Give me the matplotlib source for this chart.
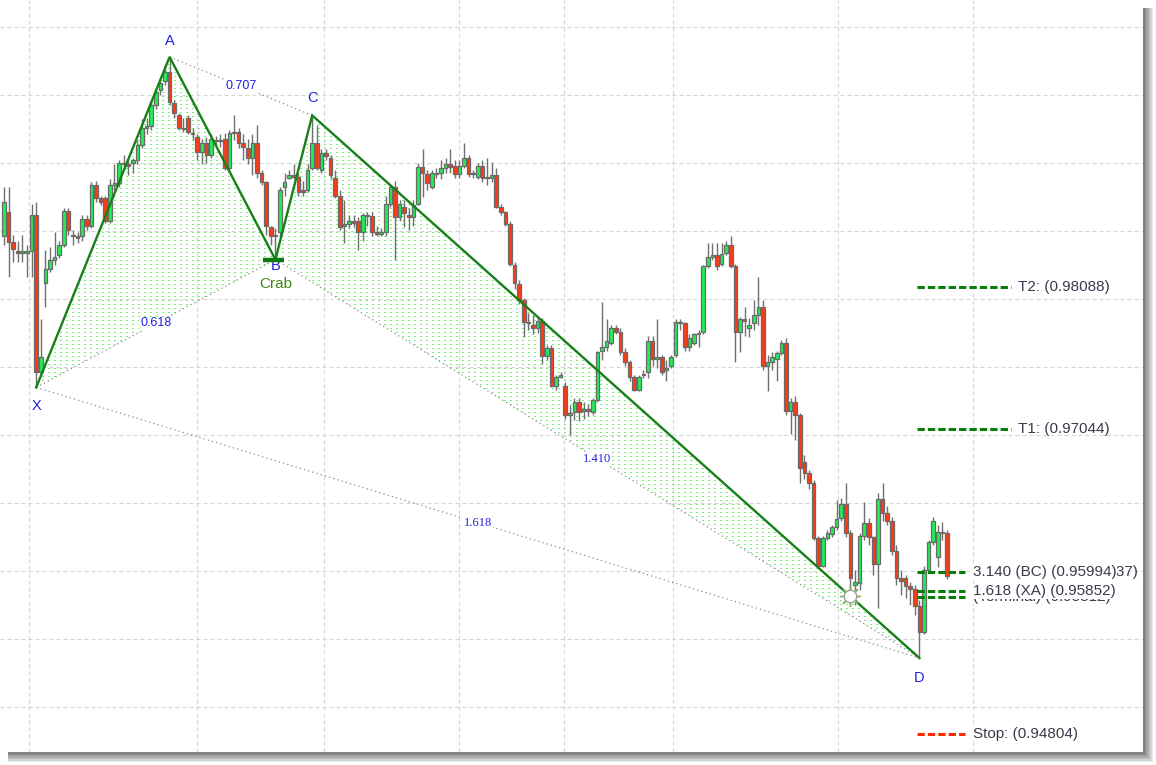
import numpy as np
import matplotlib
matplotlib.use("Agg")
import matplotlib.pyplot as plt
from matplotlib.patches import Polygon, Rectangle

plt.rcParams['font.family'] = ['Liberation Sans', 'DejaVu Sans']

# candle prices in pips (price * 10000), one entry per bar
open_p = [9846, 9864, 9842, 9835, 9834, 9834, 9835, 9862, 9746, 9812, 9822, 9829, 9832, 9840, 9865, 9847, 9846, 9846, 9859, 9854,
          9884, 9874, 9874, 9857, 9884, 9885, 9900, 9899, 9900, 9902, 9913, 9926, 9927, 9943, 9954, 9960, 9967, 9944, 9935, 9926,
          9933, 9922, 9919, 9908, 9915, 9906, 9917, 9916, 9918, 9896, 9922, 9923, 9915, 9911, 9904, 9915, 9893, 9886, 9853, 9847,
          9849, 9882, 9889, 9891, 9890, 9880, 9880, 9896, 9915, 9895, 9907, 9904, 9889, 9876, 9854, 9855, 9857, 9857, 9849, 9862,
          9861, 9849, 9848, 9849, 9870, 9882, 9860, 9868, 9862, 9860, 9870, 9897, 9892, 9882, 9892, 9893, 9896, 9899, 9898, 9892,
          9898, 9904, 9892, 9890, 9898, 9889, 9889, 9891, 9868, 9864, 9855, 9825, 9811, 9799, 9783, 9781, 9779, 9784, 9758, 9764,
          9736, 9743, 9736, 9715, 9717, 9724, 9718, 9719, 9717, 9726, 9762, 9765, 9768, 9779, 9776, 9761, 9754, 9743, 9733, 9744,
          9746, 9769, 9756, 9757, 9748, 9751, 9759, 9783, 9782, 9765, 9768, 9774, 9776, 9824, 9831, 9832, 9826, 9834, 9840, 9824,
          9776, 9785, 9779, 9782, 9788, 9794, 9751, 9754, 9756, 9760, 9768, 9718, 9724, 9715, 9680, 9672, 9665, 9624, 9604, 9624,
          9627, 9632, 9639, 9649, 9628, 9590, 9591, 9626, 9635, 9625, 9605, 9653, 9643, 9637, 9615, 9595, 9595, 9589, 9587, 9574,
          9555, 9601, 9621, 9610, 9629, 9628]
high_p = [9882, 9882, 9847, 9843, 9847, 9840, 9870, 9871, 9785, 9836, 9838, 9849, 9843, 9867, 9867, 9851, 9849, 9862, 9862, 9886,
          9887, 9876, 9876, 9888, 9899, 9902, 9906, 9902, 9904, 9917, 9932, 9933, 9946, 9955, 9962, 9971, 9978, 9946, 9937, 9933,
          9935, 9926, 9921, 9918, 9919, 9921, 9920, 9921, 9922, 9924, 9935, 9926, 9921, 9918, 9921, 9928, 9895, 9887, 9854, 9852,
          9882, 9893, 9895, 9899, 9893, 9887, 9899, 9935, 9928, 9910, 9910, 9906, 9895, 9880, 9873, 9862, 9862, 9860, 9863, 9864,
          9864, 9854, 9852, 9876, 9884, 9887, 9873, 9873, 9867, 9873, 9900, 9910, 9895, 9895, 9896, 9902, 9904, 9910, 9902, 9902,
          9915, 9906, 9895, 9900, 9902, 9904, 9901, 9896, 9870, 9865, 9857, 9827, 9814, 9801, 9790, 9788, 9787, 9786, 9766, 9766,
          9744, 9746, 9739, 9722, 9727, 9727, 9724, 9723, 9727, 9762, 9798, 9785, 9781, 9781, 9779, 9764, 9755, 9744, 9744, 9748,
          9773, 9773, 9785, 9759, 9755, 9759, 9785, 9785, 9783, 9774, 9775, 9777, 9825, 9841, 9841, 9841, 9841, 9843, 9846, 9826,
          9787, 9794, 9786, 9799, 9816, 9799, 9759, 9761, 9762, 9770, 9771, 9727, 9729, 9716, 9685, 9674, 9667, 9626, 9626, 9630,
          9634, 9652, 9654, 9665, 9630, 9601, 9628, 9651, 9639, 9626, 9657, 9665, 9648, 9640, 9619, 9601, 9597, 9592, 9590, 9579,
          9604, 9623, 9640, 9634, 9636, 9630]
low_p = [9840, 9816, 9827, 9827, 9827, 9816, 9816, 9735, 9744, 9794, 9820, 9825, 9830, 9838, 9847, 9840, 9841, 9843, 9851, 9852,
         9871, 9869, 9856, 9856, 9880, 9882, 9895, 9891, 9893, 9899, 9911, 9921, 9924, 9940, 9950, 9957, 9943, 9933, 9924, 9923,
         9921, 9917, 9902, 9899, 9900, 9904, 9913, 9912, 9895, 9895, 9917, 9911, 9902, 9899, 9891, 9889, 9884, 9847, 9840, 9829,
         9845, 9876, 9888, 9888, 9876, 9876, 9879, 9895, 9895, 9893, 9902, 9888, 9874, 9851, 9841, 9852, 9853, 9836, 9843, 9854,
         9846, 9846, 9846, 9846, 9868, 9829, 9857, 9853, 9851, 9854, 9869, 9875, 9880, 9881, 9889, 9888, 9893, 9893, 9889, 9889,
         9896, 9890, 9889, 9888, 9886, 9884, 9886, 9867, 9862, 9854, 9824, 9807, 9796, 9772, 9777, 9774, 9775, 9752, 9755, 9735,
         9733, 9742, 9712, 9700, 9711, 9710, 9712, 9714, 9715, 9724, 9755, 9762, 9766, 9774, 9759, 9751, 9740, 9732, 9732, 9742,
         9742, 9751, 9749, 9744, 9740, 9749, 9757, 9777, 9762, 9762, 9766, 9765, 9774, 9823, 9829, 9821, 9824, 9832, 9823, 9754,
         9761, 9773, 9772, 9777, 9781, 9748, 9732, 9748, 9740, 9759, 9715, 9701, 9696, 9665, 9668, 9660, 9623, 9603, 9603, 9623,
         9625, 9630, 9637, 9625, 9586, 9575, 9586, 9623, 9619, 9597, 9573, 9637, 9634, 9612, 9590, 9582, 9580, 9575, 9568, 9536,
         9554, 9599, 9619, 9603, 9623, 9594]
close_p = [9871, 9842, 9837, 9834, 9835, 9835, 9862, 9746, 9757, 9822, 9829, 9831, 9840, 9865, 9851, 9846, 9845, 9859, 9854, 9884,
           9874, 9871, 9857, 9884, 9885, 9900, 9899, 9898, 9902, 9913, 9926, 9927, 9943, 9952, 9959, 9967, 9945, 9937, 9926, 9925,
           9923, 9921, 9908, 9915, 9906, 9918, 9916, 9917, 9896, 9922, 9923, 9915, 9912, 9904, 9915, 9893, 9886, 9854, 9846, 9846,
           9880, 9886, 9891, 9890, 9879, 9879, 9895, 9915, 9896, 9907, 9905, 9891, 9876, 9853, 9855, 9857, 9856, 9849, 9862, 9861,
           9849, 9848, 9849, 9870, 9882, 9860, 9870, 9863, 9860, 9869, 9897, 9893, 9885, 9893, 9893, 9896, 9899, 9897, 9892, 9898,
           9904, 9892, 9893, 9898, 9889, 9890, 9891, 9868, 9864, 9855, 9826, 9812, 9799, 9783, 9782, 9779, 9784, 9758, 9764, 9736,
           9743, 9744, 9715, 9716, 9724, 9717, 9719, 9718, 9726, 9761, 9765, 9769, 9779, 9776, 9761, 9754, 9743, 9733, 9743, 9745,
           9769, 9756, 9757, 9746, 9749, 9757, 9783, 9782, 9765, 9771, 9774, 9775, 9824, 9831, 9832, 9824, 9833, 9840, 9824, 9776,
           9785, 9784, 9781, 9788, 9794, 9751, 9754, 9757, 9760, 9768, 9718, 9724, 9715, 9676, 9672, 9665, 9624, 9604, 9624, 9628,
           9632, 9638, 9649, 9628, 9595, 9592, 9626, 9635, 9625, 9605, 9653, 9643, 9637, 9615, 9595, 9593, 9589, 9587, 9574, 9555,
           9601, 9621, 9637, 9629, 9628, 9596]

# harmonic pattern points (bar index, price)
point_names = ['X', 'A', 'B', 'C', 'D']
point_bar = [7, 36, 59, 67, 199]
point_price = [0.9735, 0.9978, 0.9829, 0.9935, 0.9536]
ratio_pairs = [('X', 'B', '0.618'), ('A', 'C', '0.707'), ('B', 'D', '1.410'), ('X', 'D', '1.618')]

# target / stop levels on the right
long_levels = [('T2: (0.98088)', 0.98088), ('T1: (0.97044)', 0.97044)]
short_levels = [('3.140 (BC) (0.95994)', 0.95994, '#0b7d0b'),
                ('(Terminal) (0.95812)', 0.95812, '#0b7d0b'),
                ('1.618 (XA) (0.95852)', 0.95852, '#0b7d0b'),
                ('Stop: (0.94804)', 0.94804, '#ff2a00')]
hidden_label = ('1.27 (AB=CD) (0.96037)', 0.95994)

time_grid = [5.4, 42.0, 69.6, 98.9, 121.7, 145.4, 181.3, 210.7]

W, H = 1156, 765
fig = plt.figure(figsize=(W / 100, H / 100), dpi=100)
ax = fig.add_axes([0, 13 / H, 1143 / W, 752 / H])

# drop shadow behind chart panel
for k in range(7):
    r, b = 1153 - 1.4 * k, 762 - 1.4 * k
    fig.add_artist(Rectangle((8 / W, (H - b) / H), (r - 8) / W, (b - 8) / H,
                             transform=fig.transFigure, facecolor='black',
                             edgecolor='none', alpha=0.09, zorder=-1))

xlim = (-0.87, 247.6)
ylim = (0.946691, 1.001985)

o = np.array(open_p) / 10000
h = np.array(high_p) / 10000
l = np.array(low_p) / 10000
c = np.array(close_p) / 10000
x = np.arange(len(o))

# dotted green texture inside the two pattern triangles
pts = dict(zip(point_names, zip(point_bar, point_price)))
tex = np.zeros((752, 1143, 4))
tex[::4, 0::6] = (0.45, 0.95, 0.45, 1.0)
tex[::4, 1::6] = (0.45, 0.95, 0.45, 1.0)
for tri in (('X', 'A', 'B'), ('B', 'C', 'D')):
    im = ax.imshow(tex, extent=(xlim[0], xlim[1], ylim[0], ylim[1]), origin='upper',
                   aspect='auto', interpolation='nearest', zorder=1.5)
    im.set_clip_path(Polygon([pts[n] for n in tri], closed=True, transform=ax.transData))

# candles
ax.vlines(x, l, h, color='#707070', lw=1.0, zorder=3)
cols = np.where(c > o, '#1fee55', np.where(c < o, '#ff3a12', '#707070'))
ax.bar(x, c - o, bottom=o, width=0.8, color=cols, edgecolor='#6a6a6a', linewidth=0.9, zorder=4)

# dotted ratio lines and labels
for a, b, txt in ratio_pairs:
    (xa, ya), (xb, yb) = pts[a], pts[b]
    ax.plot([xa, xb], [ya, yb], color='#8a8a8a', lw=0.9, ls=(0, (1, 2.5)), zorder=5)
    fam = 'Liberation Serif' if b == 'D' else 'Liberation Sans'
    ax.text((xa + xb) / 2, (ya + yb) / 2, txt, color='#1f1fe6', fontsize=9, family=fam,
            ha='center', va='center', zorder=6,
            bbox=dict(facecolor='white', edgecolor='none', pad=0.6))

# pattern legs
ax.plot(point_bar, point_price, color='#178017', lw=1.7, zorder=6, solid_joinstyle='miter')

# B marker
ax.hlines(pts['B'][1], pts['B'][0] - 2.6, pts['B'][0] + 1.8, color='#0e7a0e', lw=3.2, zorder=7)

# point labels
offsets = {'X': -19, 'A': 16, 'B': -6, 'C': 17, 'D': -20}
for n in point_names:
    ax.annotate(n, pts[n], xytext=(0, offsets[n]), textcoords='offset pixels',
                ha='center', va='center', color='#2020e0', fontsize=10.5, zorder=6)
ax.annotate('Crab', pts['B'], xytext=(0, -24), textcoords='offset pixels',
            ha='center', va='center', color='#3f8a10', fontsize=11, zorder=8)

# sun marker on the C-D leg
sx = 184
sy = np.interp(sx, [pts['C'][0], pts['D'][0]], [pts['C'][1], pts['D'][1]])
ax.plot(sx, sy, marker=(8, 2, 0), ms=15, color='#7cb85a', mew=1.0, zorder=8)
ax.plot(sx, sy, marker='o', ms=9, mfc='white', mec='#a0a0a0', mew=1.0, zorder=9)

# level lines and texts
lvl_x0, lvl_short, lvl_long = 198.5, 208.9, 218.9
for txt, val in long_levels:
    ax.hlines(val, lvl_x0, lvl_long, color='#0b7d0b', lw=2.2, linestyles=[(0, (2.4, 1.0))], zorder=7)
    ax.text(220.4, val, txt, fontsize=11, color='#3a3a4e', va='center', ha='left', zorder=8)
ax.text(210.6, hidden_label[1], hidden_label[0], fontsize=11, color='#3a3a4e',
        va='center', ha='left', zorder=8)
for txt, val, col in short_levels:
    ax.hlines(val, lvl_x0, lvl_short, color=col, lw=2.2, linestyles=[(0, (2.4, 1.0))], zorder=7)
    ax.text(210.6, val, txt, fontsize=11, color='#3a3a4e', va='center', ha='left', zorder=9,
            bbox=dict(facecolor='white', edgecolor='none', pad=0.3))

# grid, limits, cosmetics
ax.set_xlim(*xlim)
ax.set_ylim(*ylim)
ax.set_xticks(time_grid)
ax.set_yticks(np.arange(0.950, 1.0001, 0.005))
ax.grid(True, color='#d6d6d6', lw=0.8, ls=(0, (3.6, 2.7)))
ax.set_axisbelow(True)
ax.tick_params(length=0, labelbottom=False, labelleft=False)
for s in ax.spines.values():
    s.set_visible(False)
ax.set_facecolor('white')

fig.savefig('out.png', dpi=100)
